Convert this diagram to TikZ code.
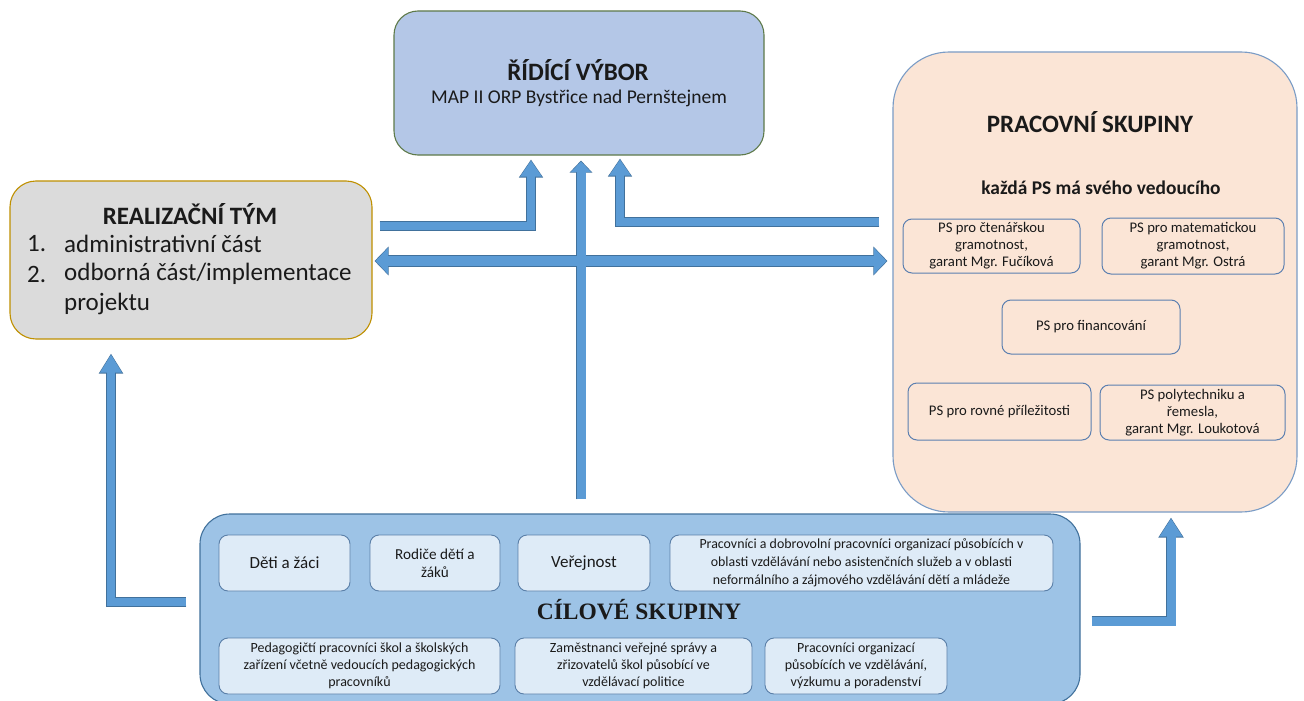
\documentclass[tikz,border=0pt]{standalone}
\usepackage{fontspec}
\setmainfont{Carlito}
\newfontfamily\timesfont{Liberation Serif}
\usetikzlibrary{arrows.meta,calc}
\definecolor{topfill}{HTML}{B4C7E7}
\definecolor{topedge}{HTML}{5E7A4A}
\definecolor{leftfill}{HTML}{DBDBDB}
\definecolor{leftedge}{HTML}{BF9000}
\definecolor{rightfill}{HTML}{FBE5D6}
\definecolor{rightedge}{HTML}{7A9CC6}
\definecolor{psedge}{HTML}{5B7FB0}
\definecolor{botfill}{HTML}{9DC3E6}
\definecolor{botedge}{HTML}{41719C}
\definecolor{cellfill}{HTML}{DEEBF7}
\definecolor{celledge}{HTML}{5A7FA8}
\definecolor{arrfill}{HTML}{5B9BD5}
\definecolor{arredge}{HTML}{41719C}
\definecolor{txt}{HTML}{1A1A1A}
\tikzset{
  bigbox/.style={draw, line width=1.1pt, inner sep=0pt},
  psbox/.style={draw=psedge, fill=rightfill, line width=1pt, rounded corners=9pt, inner sep=0pt, align=center, text=txt, font=\fontsize{14.7}{17}\selectfont},
  cell/.style={draw=celledge, fill=cellfill, line width=0.9pt, rounded corners=9pt, inner sep=0pt, minimum height=56pt, align=center, text=txt, font=\fontsize{14}{17}\selectfont},
  label/.style={inner sep=0pt, text=txt},
  arrout/.style={draw=arredge, line width=9.4pt, line join=miter},
  arrin/.style={draw=arrfill, line width=8pt, line join=miter},
}
\begin{document}
\begin{tikzpicture}[x=1pt,y=-1pt]
\useasboundingbox (0,0) rectangle (1304,701);
\clip (0,0) rectangle (1304,701);
\fill[white] (0,0) rectangle (1304,701);

% main boxes
\node[bigbox, fill=topfill, draw=topedge, minimum width=370pt, minimum height=144pt, rounded corners=24pt] (top) at (579,83) {};
\node[bigbox, fill=leftfill, draw=leftedge, minimum width=362pt, minimum height=158pt, rounded corners=26pt] (left) at (191,260) {};
\node[bigbox, fill=rightfill, draw=rightedge, minimum width=404pt, minimum height=460pt, rounded corners=56pt] (right) at (1095,282) {};
\node[bigbox, fill=botfill, draw=botedge, minimum width=880pt, minimum height=190pt, rounded corners=30pt] (cil) at (640,609) {};

% top texts
\node[label, font=\fontsize{25}{28}\selectfont\bfseries] (toptitle) at (578,70) {ŘÍDÍCÍ VÝBOR};
\node[label, font=\fontsize{19.5}{22}\selectfont] (topsub) at (579,98) {MAP II ORP Bystřice nad Pernštejnem};

% left texts
\node[label, font=\fontsize{25}{28}\selectfont\bfseries] (lefttitle) at (190,214) {REALIZAČNÍ TÝM};
\node[label, anchor=west, font=\fontsize{25}{28}\selectfont] (n1) at (27,244) {1.};
\node[label, anchor=west, font=\fontsize{25}{28}\selectfont] (l1) at (64,244) {administrativní část};
\node[label, anchor=west, font=\fontsize{25}{28}\selectfont] (n2) at (27,274) {2.};
\node[label, anchor=west, font=\fontsize{25}{28}\selectfont] (l2) at (64,274) {odborná část/implementace};
\node[label, anchor=west, font=\fontsize{25}{28}\selectfont] (l3) at (64,304) {projektu};

% right texts
\node[label, font=\fontsize{25}{28}\selectfont\bfseries] (righttitle) at (1090,122) {PRACOVNÍ SKUPINY};
\node[label, font=\fontsize{19.4}{22}\selectfont\bfseries] (rightsub) at (1101,188) {každá PS má svého vedoucího};

\node[psbox, minimum width=177pt, minimum height=54pt] (ps1) at (991.5,246) {PS pro čtenářskou\\gramotnost,\\garant Mgr. Fučíková};
\node[psbox, minimum width=182pt, minimum height=56pt] (ps2) at (1193,246) {PS pro matematickou\\gramotnost,\\garant Mgr. Ostrá};
\node[psbox, minimum width=178pt, minimum height=54pt] (ps3) at (1091,327) {PS pro financování};
\node[psbox, minimum width=183pt, minimum height=57pt] (ps4) at (999.5,411.5) {PS pro rovné příležitosti};
\node[psbox, minimum width=185pt, minimum height=55pt] (ps5) at (1192.5,412.5) {PS polytechniku a\\řemesla,\\garant Mgr. Loukotová};

% bottom texts
\node[label, font=\fontsize{23.5}{26}\selectfont\timesfont\bfseries] (ciltitle) at (639,610) {CÍLOVÉ SKUPINY};
\node[cell, minimum width=131pt, font=\fontsize{17}{18}\selectfont] (c1) at (284.5,563) {Děti a žáci};
\node[cell, minimum width=130pt, font=\fontsize{15.2}{18}\selectfont] (c2) at (435,563) {Rodiče dětí a\\žáků};
\node[cell, minimum width=132pt, font=\fontsize{17}{18}\selectfont] (c3) at (584,563) {Veřejnost};
\node[cell, minimum width=383pt, font=\fontsize{13.9}{18}\selectfont] (c4) at (861.5,563) {Pracovníci a dobrovolní pracovníci organizací působících v\\oblasti vzdělávání nebo asistenčních služeb a v oblasti\\neformálního a zájmového vzdělávání dětí a mládeže};
\node[cell, minimum width=281pt] (c5) at (359.5,666) {Pedagogičtí pracovníci škol a školských\\zařízení včetně vedoucích pedagogických\\pracovníků};
\node[cell, minimum width=237pt] (c6) at (633.5,666) {Zaměstnanci veřejné správy a\\zřizovatelů škol působící ve\\vzdělávací politice};
\node[cell, minimum width=182pt] (c7) at (856,666) {Pracovníci organizací\\působících ve vzdělávání,\\výzkumu a poradenství};

% arrow anchor coordinates
\coordinate (aS) at ($(left.east)+(7,-34)$);
\coordinate (aT) at ($(top.south)+(-48,4)$);
\coordinate (bS) at ($(cil.north)+(-59,-14)$);
\coordinate (bT) at ($(top.south)+(2,5)$);
\coordinate (cS) at ($(right.west)+(-13,-60)$);
\coordinate (cT) at ($(top.south)+(41,3)$);
\coordinate (dL) at ($(left.east)+(2,1)$);
\coordinate (dR) at ($(right.west)+(-5,-21)$);
\coordinate (eS) at ($(cil.west)+(-13,-7)$);
\coordinate (eT) at ($(left.south)+(-80,14)$);
\coordinate (fS) at ($(cil.east)+(11,12)$);
\coordinate (fT) at ($(right.south)+(76,5)$);

% arrows: outline layer
\draw[arrout, -{Triangle[width=23pt,length=18pt]}] (aS) -| (aT);
\draw[arrout, line width=10.4pt, -{Triangle[width=22pt,length=12pt]}] (bS) -- (bT);
\draw[arrout, -{Triangle[width=23pt,length=18pt]}] (cS) -| (cT);
\draw[arrout, line width=11.4pt, {Triangle[width=28pt,length=14pt]}-{Triangle[width=28pt,length=14pt]}] (dL) -- (dR);
\draw[arrout, -{Triangle[width=23pt,length=20pt]}] (eS) -| (eT);
\draw[arrout, line width=10.4pt, -{Triangle[width=24pt,length=20pt]}] (fS) -| (fT);
% arrows: fill layer
\draw[arrin, shorten >=1pt, -{Triangle[width=20.6pt,length=16pt]}] (aS) -| (aT);
\draw[arrin, line width=9pt, shorten >=1pt, -{Triangle[width=19.6pt,length=10.5pt]}] (bS) -- (bT);
\draw[arrin, shorten >=1pt, -{Triangle[width=20.6pt,length=16pt]}] (cS) -| (cT);
\draw[arrin, line width=10pt, shorten >=1pt, shorten <=1pt, {Triangle[width=25.6pt,length=12.5pt]}-{Triangle[width=25.6pt,length=12.5pt]}] (dL) -- (dR);
\draw[arrin, shorten >=1pt, -{Triangle[width=20.6pt,length=18pt]}] (eS) -| (eT);
\draw[arrin, line width=9pt, shorten >=1pt, -{Triangle[width=21.6pt,length=18pt]}] (fS) -| (fT);
\end{tikzpicture}
\end{document}
